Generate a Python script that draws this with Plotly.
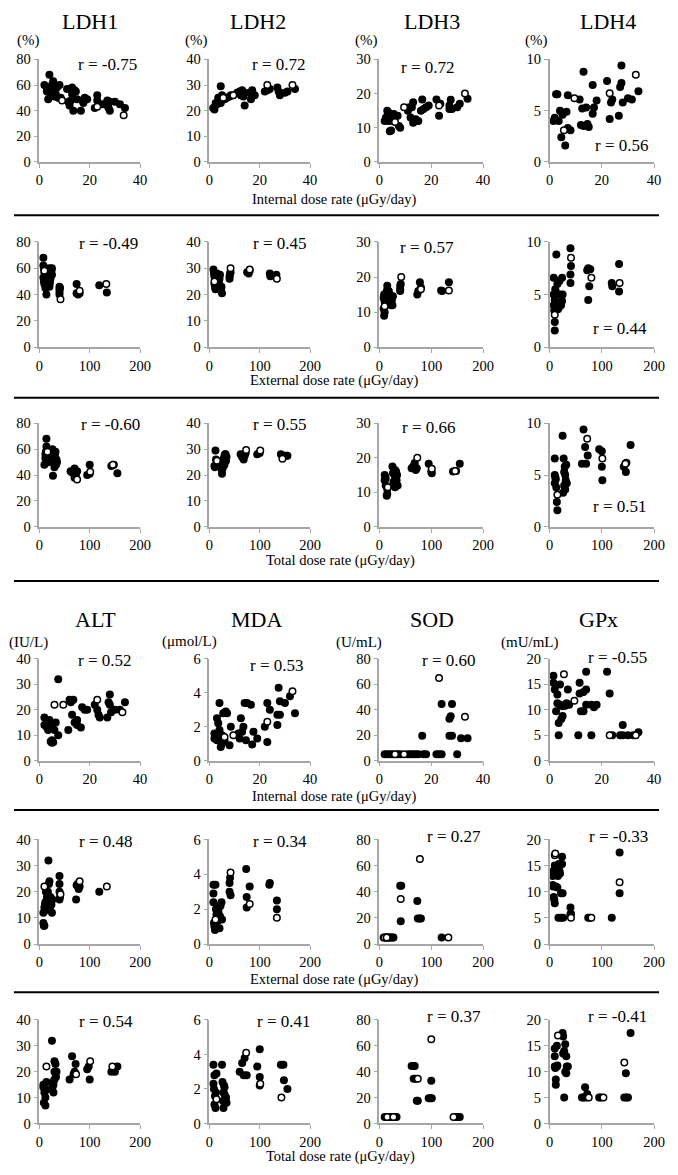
import plotly.graph_objects as go

# ---------------- DATA ----------------
# Row 1: LDH vs internal dose rate
ldh1_int_x = [2,3,3,3.5,4,4,4.5,5,5.5,6,6.5,7,7.5,8,8.5,11,11.5,12,12.5,13,13,13.5,14,14.5,15,16.5,17,17.5,18,19,22,23,23,25,27,27,27.5,28,28,30,32,34]
ldh1_int_y = [60,57,55,49,68,54,56,60,63,51,53,58,50,60,50,57,47,44,48,58,53,40,56,55,49,40,48,46,50,49,42,52,48,45,48,44,42,40,47,47,45,42]
ldh1_int_ox = [9,23,33.5]
ldh1_int_oy = [48,43,36.5]

ldh2_int_x = [1.5,2,2.5,3,3.5,4,4.5,4.5,5,6,7,8,8.5,11,12,12.5,13,13.5,14,14,16,16.5,17,18,22,23,24,27,27.5,28,30,31,34]
ldh2_int_y = [21,20.5,23,22.5,25,24,29.5,23,26,24.5,25,25.5,26,27,27.5,26,28,25.5,22,27,27,24.5,28,26,27.5,28,28.5,29,27.5,26,27,27.5,28.5]
ldh2_int_ox = [5.5,9.5,23,33]
ldh2_int_oy = [25,26,30,30]

ldh3_int_x = [2,2.5,3,3.5,3.5,4,4.5,4.5,5,5.5,7,7.5,8,11,11.5,12,12.5,13,13,14,15,16,16.5,17,18,19,22,23,23.5,27,27,27.5,28,30,31,34]
ldh3_int_y = [12,13,15,14.5,12,9,9.2,13.5,12,14,13.5,10.5,10,15,16,13,16,17.5,11.5,12.5,12,15,18.3,15.5,16,16.5,18.3,13.5,17,15.5,16.5,18.2,15.5,16,17,18.5]
ldh3_int_ox = [6,9.5,23,33]
ldh3_int_oy = [11.7,16,16.5,20]

ldh4_int_x = [1.5,2,2.5,3,3.5,4,4.5,5,6,6.5,7,7,8,11.5,12,12.5,13,13,14,14.5,15,16.5,16.5,17,18,22,23,23.5,24,26.5,27,27.5,27.5,28,30,31.5,34]
ldh4_int_y = [4,4.3,6.6,6.6,4,5,2.4,4.6,1.6,4.9,3.3,6.5,3.1,6.1,3.6,5.2,8.8,3.5,5.3,3.7,3.4,7.5,4.7,5.3,6,7.9,4.2,5.8,6.1,4.5,7.3,9.4,7.7,5.8,6.2,6.1,6.9]
ldh4_int_ox = [5.5,9.5,23,33]
ldh4_int_oy = [3.1,6.2,6.7,8.5]

# Row 2: LDH vs external dose rate
ldh1_ext_x = [8,8,9,10,8,9,10,12,13,14,15,16,17,18,19,20,22,24,25,25,20,12,11,21,23,40,40,40,40,41,74,74,77,80,119,134]
ldh1_ext_y = [68,62,60,57,53,50,48,55,52,40,58,50,47,55,53,46,52,58,55,60,60,45,51,49,56,44,46,42,40,45,48,41,40,41,47,41.5]
ldh1_ext_ox = [10,42,80,133]
ldh1_ext_oy = [58,36.5,43,48]

ldh2_ext_x = [8,9,10,10,11,12,12,14,15,16,17,18,20,21,22,24,25,23,13,19,40,40,41,42,75,78,80,120,121,133]
ldh2_ext_y = [29.5,28,27,24,23,22,26,25,28,27,25,24,26,27.5,22,23,20.5,21.5,27,25,26,27,28,28.5,28.5,28,29,28,27,27.5]
ldh2_ext_ox = [10,42,80,134]
ldh2_ext_oy = [25,30,29.5,26]

ldh3_ext_x = [8,9,10,8,9,10,12,14,15,16,18,20,22,25,26,24,18,11,13,21,40,40,41,40,73,75,78,80,119,121,134]
ldh3_ext_y = [11,9,10,14,15,13,12.5,16,17.5,14.5,13,15,12,12,14.5,13.5,16,14,15,12.5,16.5,17.5,18,16,15,16,18.5,17,16.2,16,18.5]
ldh3_ext_ox = [10,42,80,134]
ldh3_ext_oy = [11.7,20,16.5,16.2]

ldh4_ext_x = [8,8,8,9,10,10,10,12,13,14,15,16,18,19,20,22,24,24,25,11,40,41,40,40,72,74,76,74,78,119,120,133,133]
ldh4_ext_y = [4,5,6.6,3.5,1.6,2.4,4.5,5.2,8.8,4.2,6,3.6,3.8,6.3,5,4,6.6,4.4,5,5.5,9.4,7.7,6.9,6.1,7.3,7.5,5.8,4.5,7.4,6.1,5.8,7.9,5.3]
ldh4_ext_ox = [10,41,80,134]
ldh4_ext_oy = [3.1,8.5,6.6,6.1]

# Row 3: LDH vs total dose rate
ldh1_tot_x = [10,12,12,14,14,15,16,17,18,26,27,28,28,30,30,32,33,34,35,22,25,13,31,62,65,70,70,73,75,95,100,100,143,148,155]
ldh1_tot_y = [48,53,56,62,68,60,55,51,50,60,39.5,55,50,46,53,58,48,52,50,55,57,58,56,43,42,45,38,41,43,40,48,41,47,48,41.5]
ldh1_tot_ox = [16,75,101,146]
ldh1_tot_oy = [58,36.5,42.5,48]

ldh2_tot_x = [12,10,14,15,25,25,27,28,30,32,33,30,26,34,11,13,29,31,62,65,68,70,72,95,100,142,148,152,155]
ldh2_tot_y = [29.5,23.5,24,25,22,20.5,23,26,27.5,28,25.5,24,25,27,23,26,26.5,28,28,27,26,27.5,28.5,28,28.5,28,27.5,27.5,27.5]
ldh2_tot_ox = [15,73,101,145]
ldh2_tot_oy = [25.5,29.7,29.5,26.3]

ldh3_tot_x = [10,10,12,14,15,15,12,25,27,28,30,30,32,34,35,30,33,11,26,29,62,65,68,70,72,95,100,101,142,148,155]
ldh3_tot_y = [15,13.5,12,9,9.5,11,14,17.5,13,12,11.5,14,16,15,12,16.5,13.5,14.5,15.5,12.5,17,17.5,18.5,16.5,17,18.3,16,15.5,16,16.2,18.3]
ldh3_tot_ox = [16,73,101,146]
ldh3_tot_oy = [11.5,20,16.8,16.2]

ldh4_tot_x = [10,10,10,12,14,15,13,25,27,28,30,32,30,28,33,26,11,29,31,62,65,68,70,73,95,100,100,101,142,146,147,155]
ldh4_tot_y = [6.6,5,4.2,4.6,2.4,1.6,3.8,8.8,6.6,5.3,5,6,3.6,4,4.2,3.3,4.8,5.8,4.5,6.1,9.4,7.7,6.1,6.9,7.5,7.3,5.8,4.5,5.8,5.3,6.2,7.9]
ldh4_tot_ox = [15,72,101,145]
ldh4_tot_oy = [3.1,8.5,6.6,6.1]

# Row 4: ALT / MDA / SOD / GPx vs internal dose rate
alt_int_x = [2,2,3,3,3.5,4,4,4.5,5,5,5.5,6,6.5,7.5,7.5,5,11.5,12,12.5,13,13.5,14,15,15,16.5,17,18,19,22,23,23.5,24,27,27.5,28,28,28.5,30,32,34]
alt_int_y = [17,14,15,13,12,16,14,7.5,7,8,7.2,12,15,32,10,13,12,24,23,18,24,15,14,16,13,21,20,20,22,20,18,17,17,23,26,22,19,20,20,23]
alt_int_ox = [6,9.5,23,33]
alt_int_oy = [22,22,24,19]

mda_int_x = [2,2,3,3,3.5,4,4,4.5,5,5,5.5,6,6.5,7,8,8.5,11.5,12,12.5,13,13.5,14,15,14.5,16.5,17,17.5,19,22,23,23,24,27,27,27.5,28,28,30,32,34]
mda_int_y = [1.6,1.3,2.5,1.2,2.2,3.4,1.8,0.8,1.0,1.5,2.8,1.2,2.9,2.8,0.9,2.0,1.6,1.3,2.5,1.7,2.0,3.4,3.4,1.2,3.3,0.95,1.7,1.3,2.0,3.4,1.1,3.0,2.1,2.7,4.3,3.5,2.7,3.4,3.8,2.8]
mda_int_ox = [6,9.5,23,33]
mda_int_oy = [1.4,1.5,2.3,4.1]

sod_int_x = [2,3,4,5,7,8,11,12,13,14,15,17,18,22,23,24,16.5,24,27,27.5,28,27,28,30,31.5,34]
sod_int_y = [5,5,5,5,5,5,5,5,5,5,5,5,5,5,5,5,19.5,44.5,33,35,44.5,19.5,19.5,5,17.5,17.5]
sod_int_ox = [6,9.5,23,33]
sod_int_oy = [5,5,65,34.5]

gpx_int_x = [1.5,1.5,2,2.5,3,3,3.5,3.5,4,4,4.5,5,5,6,6.5,7,7.5,11,11.5,11.5,12,13,13,14,14,14,16,16,17,18,22,23,24,27,28,28,30,32,34]
gpx_int_y = [16.7,15.3,14,9.7,13,11.3,5,7.4,15,11,8.2,8.8,10.7,10.8,11.3,14,11,5,15.3,13.2,9.7,9.7,13.5,14,17.5,11,5,11,10.5,11,17.5,13.2,5,5,7,5,5,5,5.6]
gpx_int_ox = [5.5,9.5,23,33]
gpx_int_oy = [17,11.8,5,5]

# Row 5: vs external dose rate
alt_ext_x = [8,9,10,8,10,11,12,13,15,16,18,19,20,22,24,25,26,14,17,21,40,40,40,40,41,73,74,76,78,80,119]
alt_ext_y = [8,7,7,12,14,15,16,20,18,17,32,23,24,18,15,12,17,13,20,14,26,23,20,17,18,17,22.5,23,21,22,20]
alt_ext_ox = [10,42,80,134]
alt_ext_oy = [22,19,24,22]

mda_ext_x = [8,8,8,9,10,11,12,13,14,15,18,20,22,24,25,16,21,19,40,41,40,42,73,74,74,80,119,120,134,134]
mda_ext_y = [3.4,2.9,2.4,1.2,1.0,0.8,3.4,2.0,1.7,1.5,1.8,0.9,2.2,2.4,1.4,1.3,1.6,2.1,3.5,3.8,3.0,2.8,4.3,2.7,2.1,3.3,3.4,3.5,2.5,2.0]
mda_ext_ox = [12,42,80,134]
mda_ext_oy = [1.4,4.1,2.3,1.5]

sod_ext_x = [8,12,15,18,20,22,25,27,40,42,41,73,74,77,80,120]
sod_ext_y = [5,5,5,5,5,5,5,5,44.5,44.5,17.5,33,19.5,19.5,19.5,5]
sod_ext_ox = [10,14,41,78,133]
sod_ext_oy = [5,5,34.5,65,5]

gpx_ext_x = [6,6,7,8,8,9,10,10,11,12,13,14,15,18,18,19,20,22,22,24,25,24,17,22,26,16,40,40,41,74,77,119,134,134]
gpx_ext_y = [13,11.3,11,14,9,8.5,7.8,15,13.5,11,14.5,13.2,10.8,13.5,15.3,14,13.5,15.3,9.7,16.7,9.7,15.3,5,5,5,13,7,5.7,5.8,5,5,5,17.5,9.7]
gpx_ext_ox = [10,11,41,80,134]
gpx_ext_oy = [17,17.3,5,5,11.8]

# Row 6: vs total dose rate
alt_tot_x = [8,8,9,10,12,12,14,14,25,27,28,28,30,30,32,33,34,30,26,11,60,65,68,70,72,95,98,100,143,147,150,155]
alt_tot_y = [14,15,8,12,7,10,13,16,32,16,12,15,20,24,23,18,20,17,14,13,17,26,19,20,23,21,22,17,20,21,20,22]
alt_tot_ox = [14,73,101,145]
alt_tot_oy = [22,19,24,22]

mda_tot_x = [8,8,9,10,10,12,13,14,25,26,27,28,30,30,32,33,34,28,11,29,60,65,68,70,74,95,100,100,100,142,147,148,155]
mda_tot_y = [3.4,2.3,2.0,2.8,1.1,0.9,1.8,2.9,3.4,2.4,1.3,0.9,1.7,2.1,1.3,1.5,1.2,1.8,1.6,2.2,3.0,3.5,2.8,3.8,2.8,3.3,4.3,2.7,2.2,3.4,3.4,2.5,2.0]
mda_tot_ox = [14,73,101,143]
mda_tot_oy = [1.4,4.1,2.3,1.5]

sod_tot_x = [10,15,22,25,28,30,33,62,66,68,66,70,72,74,95,98,101,100,148,152,155]
sod_tot_y = [5,5,5,5,5,5,5,44.5,44.5,44.5,34.5,34.5,17.5,17.5,19.5,19.5,19.5,33,5,5,5]
sod_tot_ox = [15,27,74,100,143]
sod_tot_oy = [5,5,34.5,65,5]

gpx_tot_x = [10,10,10,11,12,12,14,15,14,25,26,28,28,30,30,32,33,35,28,32,26,62,65,68,72,70,95,98,143,147,150,146,155]
gpx_tot_y = [13,14.5,11,10.7,8.5,7.5,15,11.2,11,17.5,16.8,14,13.5,15.3,10,13,11,11,5,9.7,13.5,5,5,7,5.7,5,5,5,5,5,5,9.7,17.5]
gpx_tot_ox = [16,75,103,143]
gpx_tot_oy = [17,5,5,11.8]

# Tick labels / ranges / titles
panel_titles = ["LDH1", "LDH2", "LDH3", "LDH4", "ALT", "MDA", "SOD", "GPx"]
unit_labels = ["(%)", "(%)", "(%)", "(%)", "(IU/L)", "(\u03bcmol/L)", "(U/mL)", "(mU/mL)"]
y_ticks = [[0,20,40,60,80],[0,10,20,30,40],[0,10,20,30],[0,5,10],
           [0,10,20,30,40],[0,2,4,6],[0,20,40,60,80],[0,5,10,15,20]]
int_ticks = [0,20,40]
dose_ticks = [0,100,200]
x_titles = ["Internal dose rate (\u03bcGy/day)", "External dose rate (\u03bcGy/day)", "Total dose rate (\u03bcGy/day)"]
r_texts = [["r = -0.75","r = 0.72","r = 0.72","r = 0.56"],
           ["r = -0.49","r = 0.45","r = 0.57","r = 0.44"],
           ["r = -0.60","r = 0.55","r = 0.66","r = 0.51"],
           ["r = 0.52","r = 0.53","r = 0.60","r = -0.55"],
           ["r = 0.48","r = 0.34","r = 0.27","r = -0.33"],
           ["r = 0.54","r = 0.41","r = 0.37","r = -0.41"]]

panels = [
    [(ldh1_int_x,ldh1_int_y,ldh1_int_ox,ldh1_int_oy),(ldh2_int_x,ldh2_int_y,ldh2_int_ox,ldh2_int_oy),
     (ldh3_int_x,ldh3_int_y,ldh3_int_ox,ldh3_int_oy),(ldh4_int_x,ldh4_int_y,ldh4_int_ox,ldh4_int_oy)],
    [(ldh1_ext_x,ldh1_ext_y,ldh1_ext_ox,ldh1_ext_oy),(ldh2_ext_x,ldh2_ext_y,ldh2_ext_ox,ldh2_ext_oy),
     (ldh3_ext_x,ldh3_ext_y,ldh3_ext_ox,ldh3_ext_oy),(ldh4_ext_x,ldh4_ext_y,ldh4_ext_ox,ldh4_ext_oy)],
    [(ldh1_tot_x,ldh1_tot_y,ldh1_tot_ox,ldh1_tot_oy),(ldh2_tot_x,ldh2_tot_y,ldh2_tot_ox,ldh2_tot_oy),
     (ldh3_tot_x,ldh3_tot_y,ldh3_tot_ox,ldh3_tot_oy),(ldh4_tot_x,ldh4_tot_y,ldh4_tot_ox,ldh4_tot_oy)],
    [(alt_int_x,alt_int_y,alt_int_ox,alt_int_oy),(mda_int_x,mda_int_y,mda_int_ox,mda_int_oy),
     (sod_int_x,sod_int_y,sod_int_ox,sod_int_oy),(gpx_int_x,gpx_int_y,gpx_int_ox,gpx_int_oy)],
    [(alt_ext_x,alt_ext_y,alt_ext_ox,alt_ext_oy),(mda_ext_x,mda_ext_y,mda_ext_ox,mda_ext_oy),
     (sod_ext_x,sod_ext_y,sod_ext_ox,sod_ext_oy),(gpx_ext_x,gpx_ext_y,gpx_ext_ox,gpx_ext_oy)],
    [(alt_tot_x,alt_tot_y,alt_tot_ox,alt_tot_oy),(mda_tot_x,mda_tot_y,mda_tot_ox,mda_tot_oy),
     (sod_tot_x,sod_tot_y,sod_tot_ox,sod_tot_oy),(gpx_tot_x,gpx_tot_y,gpx_tot_ox,gpx_tot_oy)],
]

# ---------------- LAYOUT (page pixels) ----------------
PAGE_W, PAGE_H = 678, 1175
OFF = 8                      # default body margin of the html page
W, H = PAGE_W - 2 * OFF, PAGE_H - 2 * OFF
FONT = "'Liberation Serif', 'Times New Roman', Times, serif"
COLS = [(36, 139), (210, 313), (384, 490), (558, 665)]
ROWS = [(52, 156), (237, 344), (421, 526), (660, 763), (843, 949), (1026, 1131)]
R_POS = [[(106, 57), (281, 57), (434, 60), (632, 139)],
         [(107, 239), (282, 239), (433, 243), (630, 325)],
         [(109, 422), (282, 422), (435, 425), (630, 505)],
         [(103, 662), (279, 667), (455, 662), (628, 658)],
         [(104, 845), (282, 845), (460, 840), (629, 840)],
         [(104, 1028), (286, 1028), (460, 1023), (628, 1023)]]
TITLE_POS = [(88, 14), (260, 14), (438, 14), (618, 14), (93, 620), (258, 620), (438, 620), (608, 620)]
UNIT_POS = [(25, 33), (197, 33), (371, 33), (545, 33), (25, 643), (190, 642), (363, 643), (538, 643)]
XT_POS = [(338, 194), (338, 378), (344, 560), (338, 799), (338, 985), (344, 1164)]
SEP_Y = [210, 395, 581, 813, 998]

def px(x):
    return (x - OFF) / W

def py(y):
    return 1 - (y - OFF) / H

fig = go.Figure()
layout = dict(width=W, height=H, margin=dict(l=0, r=0, t=0, b=0),
              paper_bgcolor="white", plot_bgcolor="white", showlegend=False,
              font=dict(family=FONT, color="black"))
annotations = []
shapes = []

for r in range(6):
    for c in range(4):
        k = r * 4 + c + 1
        measure = c if r < 3 else c + 4
        xmax = 40 if r % 3 == 0 else 200
        ymax = y_ticks[measure][-1]
        xs, ys, oxs, oys = panels[r][c]
        xa = "x" if k == 1 else f"x{k}"
        ya = "y" if k == 1 else f"y{k}"
        fig.add_trace(go.Scatter(x=xs, y=ys, mode="markers", xaxis=xa, yaxis=ya,
                                 marker=dict(size=8, color="black", line=dict(width=0)),
                                 cliponaxis=False, hoverinfo="skip"))
        fig.add_trace(go.Scatter(x=oxs, y=oys, mode="markers", xaxis=xa, yaxis=ya,
                                 marker=dict(size=6.5, color="white", line=dict(width=1.5, color="black")),
                                 cliponaxis=False, hoverinfo="skip"))
        x0, x1 = COLS[c]
        ytop, ybot = ROWS[r]
        axstyle = dict(showline=True, linecolor="#a6a6a6", linewidth=1.5, ticks="outside",
                       ticklen=4, tickwidth=1, tickcolor="#a6a6a6", showgrid=False, zeroline=False,
                       tickfont=dict(family=FONT, size=14.5, color="black"), fixedrange=True)
        layout["xaxis" if k == 1 else f"xaxis{k}"] = dict(
            axstyle, domain=[px(x0), px(x1)], range=[0, xmax],
            tickvals=int_ticks if xmax == 40 else dose_ticks,
            anchor=ya)
        layout["yaxis" if k == 1 else f"yaxis{k}"] = dict(
            axstyle, domain=[py(ybot), py(ytop)], range=[0, ymax],
            tickvals=y_ticks[measure], anchor=xa)
        rx, ry = R_POS[r][c]
        annotations.append(dict(x=px(rx), y=py(ry), xref="paper", yref="paper", text=r_texts[r][c],
                                showarrow=False, xanchor="center", yanchor="middle",
                                font=dict(family=FONT, size=17, color="black")))

for i, t in enumerate(panel_titles):
    tx, ty = TITLE_POS[i]
    annotations.append(dict(x=px(tx), y=py(ty), xref="paper", yref="paper", text=t, showarrow=False,
                            xanchor="center", yanchor="middle", font=dict(family=FONT, size=22, color="black")))
    ux, uy = UNIT_POS[i]
    annotations.append(dict(x=px(ux), y=py(uy), xref="paper", yref="paper", text=unit_labels[i], showarrow=False,
                            xanchor="center", yanchor="middle", font=dict(family=FONT, size=15, color="black")))

for i, (tx, ty) in enumerate(XT_POS):
    annotations.append(dict(x=px(tx), y=py(ty), xref="paper", yref="paper", text=x_titles[i % 3], showarrow=False,
                            xanchor="center", yanchor="middle", font=dict(family=FONT, size=14.5, color="black")))

for sy in SEP_Y:
    shapes.append(dict(type="line", xref="paper", yref="paper", x0=px(10), x1=px(670), y0=py(sy), y1=py(sy),
                       line=dict(color="black", width=2)))

layout["annotations"] = annotations
layout["shapes"] = shapes
fig.update_layout(**layout)
fig.write_html("out.html")
